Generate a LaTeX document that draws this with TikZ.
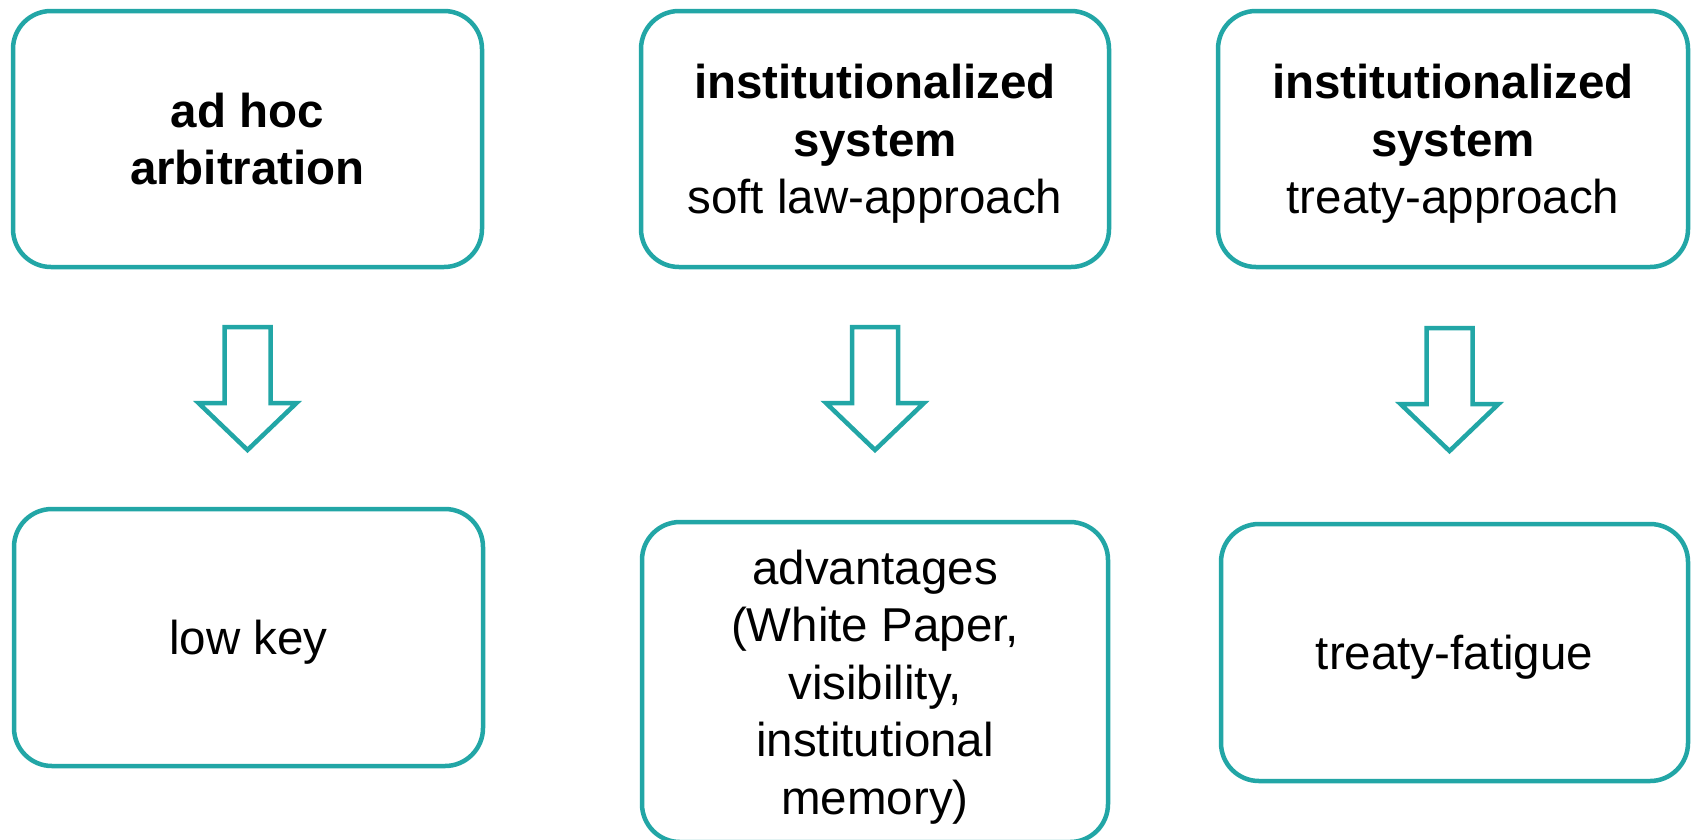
\documentclass[tikz,border=0pt]{standalone}
\usepackage{fontspec}
\setmainfont{Liberation Sans}
\definecolor{teal1}{RGB}{34,166,166}
\begin{document}
\begin{tikzpicture}[x=1pt,y=-1pt,
  box/.style={draw=teal1, line width=4.5pt, rounded corners=38pt, fill=white,
    align=center, inner sep=0pt, text=black, text depth=0pt,
    font=\fontsize{47.5}{57.5}\selectfont},
  blockarrow/.style={draw=teal1, line width=4.5pt, line join=miter}]
\useasboundingbox (0,0) rectangle (1691,839);
\begin{scope}
\clip (0,0) rectangle (1691,839);
\node[box, minimum width=469pt, minimum height=256pt] (b1) at (247.5,139) {\textbf{ad hoc}\\\textbf{arbitration}};
\node[box, minimum width=468pt, minimum height=256pt] (b2) at (875,139) {\textbf{institutionalized}\\\textbf{system}\\soft law-approach};
\node[box, minimum width=470pt, minimum height=256pt] (b3) at (1453,139) {\textbf{institutionalized}\\\textbf{system}\\treaty-approach};
\node[box, minimum width=469pt, minimum height=257pt] (b4) at (248.5,637.5) {low key};
\node[box, minimum width=466pt, minimum height=320pt] (b5) at (875,682) {advantages\\(White Paper,\\visibility,\\institutional\\memory)};
\node[box, minimum width=467pt, minimum height=257pt] (b6) at (1454.5,652.5) {treaty-fatigue};
\end{scope}
\coordinate (a1) at (247.5,327);
\coordinate (a2) at (875,327);
\coordinate (a3) at (1449.5,328);
\foreach \a in {a1,a2,a3}{
  \draw[blockarrow] ([xshift=-23pt]\a) -- ++(0,76) -- ++(-26,0) -- ++(49,47) -- ++(49,-47) -- ++(-26,0) -- ++(0,-76) -- cycle;
}
\end{tikzpicture}
\end{document}
